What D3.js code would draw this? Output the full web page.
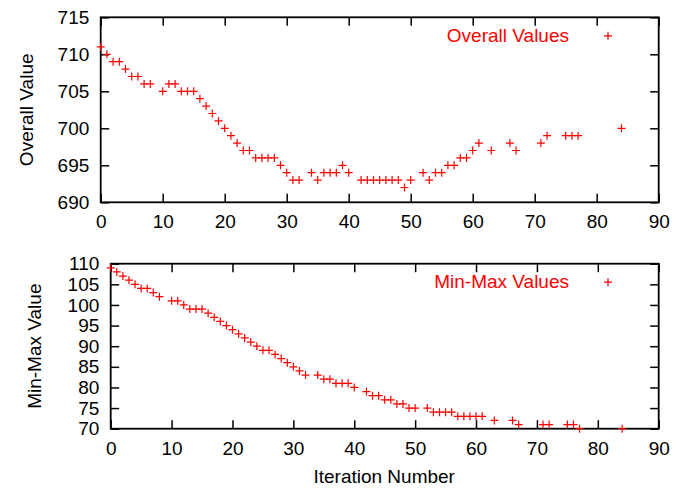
<!DOCTYPE html>
<html>
<head>
<meta charset="utf-8">
<script src="https://cdn.jsdelivr.net/npm/d3@7"></script>
<style>
  body { margin: 0; background: #fff; }
  svg { display: block; }
  text { font-family: "Liberation Sans", Arial, Helvetica, sans-serif; }
</style>
</head>
<body>
<div id="chart"></div>
<script>
// data
const iterations = [0, 1, 2, 3, 4, 5, 6, 7, 8,
    10, 11, 12, 13, 14, 15, 16, 17, 18, 19, 20, 21, 22, 23, 24, 25, 26, 27, 28, 29, 30, 31, 32,
    34, 35, 36, 37, 38, 39, 40,
    42, 43, 44, 45, 46, 47, 48, 49, 50,
    52, 53, 54, 55, 56, 57, 58, 59, 60, 61,
    63, 66, 67, 71, 72, 75, 76, 77, 84];
const overallValues = [711, 710, 709, 709, 708, 707, 707, 706, 706,
    705, 706, 706, 705, 705, 705, 704, 703, 702, 701, 700, 699, 698, 697, 697, 696, 696, 696, 696, 695, 694, 693, 693,
    694, 693, 694, 694, 694, 695, 694,
    693, 693, 693, 693, 693, 693, 693, 692, 693,
    694, 693, 694, 694, 695, 695, 696, 696, 697, 698,
    697, 698, 697, 698, 699, 699, 699, 699, 700];
const minMaxValues = [109, 108, 107, 106, 105, 104, 104, 103, 102,
    101, 101, 100, 99, 99, 99, 98, 97, 96, 95, 94, 93, 92, 91, 90, 89, 89, 88, 87, 86, 85, 84, 83,
    83, 82, 82, 81, 81, 81, 80,
    79, 78, 78, 77, 77, 76, 76, 75, 75,
    75, 74, 74, 74, 74, 73, 73, 73, 73, 73,
    72, 72, 71, 71, 71, 71, 71, 70, 70];
const xTicks = [0, 10, 20, 30, 40, 50, 60, 70, 80, 90];
const overallTicks = [690, 695, 700, 705, 710, 715];
const minMaxTicks = [70, 75, 80, 85, 90, 95, 100, 105, 110];

// page setup
const width = 690;
const height = 488;
const fontSize = 19;
const tickLen = 8.5;

const svg = d3.select("#chart")
    .append("svg")
    .attr("width", width)
    .attr("height", height);

// one panel: frame, inward ticks on all sides, points, key
function drawPanel(p) {
    const x = d3.scaleLinear().domain([0, 90]).range([p.left, p.right]);
    const y = d3.scaleLinear().domain(p.domain).range([p.bottom, p.top]);

    // bottom axis with labels
    svg.append("g")
        .attr("transform", `translate(0,${p.bottom})`)
        .call(d3.axisBottom(x).tickValues(xTicks).tickSizeInner(-tickLen).tickSizeOuter(0).tickPadding(12.4));
    // top mirror ticks
    svg.append("g")
        .attr("transform", `translate(0,${p.top})`)
        .call(d3.axisTop(x).tickValues(xTicks).tickSizeInner(-tickLen).tickSizeOuter(0).tickFormat(""));
    // left axis with labels
    svg.append("g")
        .attr("transform", `translate(${p.left},0)`)
        .call(d3.axisLeft(y).tickValues(p.ticks).tickSizeInner(-tickLen).tickSizeOuter(0).tickPadding(11.4));
    // right mirror ticks
    svg.append("g")
        .attr("transform", `translate(${p.right},0)`)
        .call(d3.axisRight(y).tickValues(p.ticks).tickSizeInner(-tickLen).tickSizeOuter(0).tickFormat(""));

    svg.selectAll(".domain").remove();
    svg.selectAll(".tick line").attr("stroke", "#000").attr("stroke-width", 1.5);
    svg.selectAll(".tick text")
        .attr("fill", "#000")
        .style("font-size", fontSize + "px")
        .style("font-family", "'Liberation Sans', Arial, Helvetica, sans-serif");

    // frame
    svg.append("rect")
        .attr("x", p.left)
        .attr("y", p.top)
        .attr("width", p.right - p.left)
        .attr("height", p.bottom - p.top)
        .attr("fill", "none")
        .attr("stroke", "#000")
        .attr("stroke-width", 1.8);

    // points as plus signs
    svg.append("g").selectAll("path")
        .data(iterations.map((it, i) => [it, p.values[i]]))
        .enter()
        .append("path")
        .attr("d", d => `M${x(d[0]) - 4},${y(d[1])}H${x(d[0]) + 4}M${x(d[0])},${y(d[1]) - 4}V${y(d[1]) + 4}`)
        .attr("stroke", "#ff0000")
        .attr("stroke-width", 1.2)
        .attr("fill", "none");

    // y axis title
    svg.append("text")
        .attr("transform", `translate(${p.titleX},${(p.top + p.bottom) / 2}) rotate(-90)`)
        .attr("text-anchor", "middle")
        .attr("font-size", fontSize + "px")
        .attr("fill", "#000")
        .text(p.title);

    // key
    svg.append("text")
        .attr("x", 569)
        .attr("y", p.top + 24.5)
        .attr("text-anchor", "end")
        .attr("font-size", fontSize + "px")
        .attr("fill", "#ff0000")
        .text(p.key);
    svg.append("path")
        .attr("d", `M604,${p.top + 18.5}h8M608,${p.top + 14.5}v8`)
        .attr("stroke", "#ff0000")
        .attr("stroke-width", 1.2);
}

drawPanel({
    left: 100.7, right: 658.7, top: 17.3, bottom: 202.3,
    domain: [690, 715], ticks: overallTicks, values: overallValues,
    title: "Overall Value", titleX: 33.3, key: "Overall Values"
});

drawPanel({
    left: 110.7, right: 658.7, top: 263.7, bottom: 428.7,
    domain: [70, 110], ticks: minMaxTicks, values: minMaxValues,
    title: "Min-Max Value", titleX: 40.7, key: "Min-Max Values"
});

// x axis title
svg.append("text")
    .attr("x", 384.2)
    .attr("y", 482.7)
    .attr("text-anchor", "middle")
    .attr("font-size", fontSize + "px")
    .attr("fill", "#000")
    .text("Iteration Number");
</script>
</body>
</html>
